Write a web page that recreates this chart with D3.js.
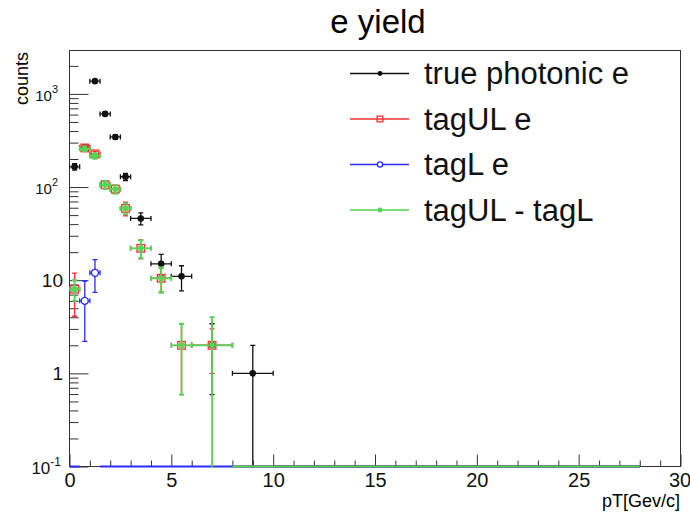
<!DOCTYPE html>
<html>
<head>
<meta charset="utf-8">
<script src="https://cdn.jsdelivr.net/npm/d3@7"></script>
<style>
  body { margin: 0; background: #fff; }
  svg { display: block; font-family: "Liberation Sans", Arial, sans-serif; }
</style>
</head>
<body>
<div id="chart"></div>
<script>
// bins of the pT histogram (GeV/c)
const binEdges = [0, 0.5, 1, 1.5, 2, 2.5, 3, 4, 5, 6, 8, 10, 12, 14, 16, 18, 20, 22, 24, 26, 28];

// counts per bin
const truePhot    = [165, 265, 1370, 610, 345, 129, 46, 15, 11, 2, 1, 0, 0, 0, 0, 0, 0, 0, 0, 0];
const truePhotErr = [12.8, 16.3, 37, 24.7, 18.6, 11.4, 6.8, 3.9, 3.3, 1.41, 1, 0, 0, 0, 0, 0, 0, 0, 0, 0];
const tagUL       = [8, 263, 227, 106, 95, 59, 22, 10.5, 2, 2, 0, 0, 0, 0, 0, 0, 0, 0, 0, 0];
const tagULErr    = [3.9, 16.2, 15, 10.3, 9.7, 10, 5, 3, 1.41, 1, 0, 0, 0, 0, 0, 0, 0, 0, 0, 0];
const tagL        = [0, 6, 12, 0, 0, 0, 0, 0, 0, 0, 0, 0, 0, 0, 0, 0, 0, 0, 0, 0];
const tagLErr     = [0, 3.8, 4.6, 0, 0, 0, 0, 0, 0, 0, 0, 0, 0, 0, 0, 0, 0, 0, 0, 0];
const tagDiff     = [8, 257, 216, 106, 95, 59, 22, 10.5, 2, 2, 0, 0, 0, 0, 0, 0, 0, 0, 0, 0];
const tagDiffErr  = [2, 16, 15, 10.3, 9.7, 7.7, 4.7, 3.2, 1.41, 2, 0, 0, 0, 0, 0, 0, 0, 0, 0, 0];

const legendNames = ["true photonic e", "tagUL e", "tagL e", "tagUL - tagL"];

// axis ticks
const xMajor = [0, 5, 10, 15, 20, 25, 30];
const xMinor = d3.range(0, 31, 1);
const yMajor = [0.1, 1, 10, 100, 1000];
const yMajorLabels = [["10", "-1"], ["1", ""], ["10", ""], ["10", "2"], ["10", "3"]];
const yMinor = [0.2, 0.3, 0.4, 0.5, 0.6, 0.7, 0.8, 0.9, 2, 3, 4, 5, 6, 7, 8, 9,
                20, 30, 40, 50, 60, 70, 80, 90, 200, 300, 400, 500, 600, 700, 800, 900, 2000];

const W = 690, H = 517;
const svg = d3.select("#chart").append("svg").attr("width", W).attr("height", H);

const frameLeft = 69.5, frameRight = 680.5, frameTop = 50.5, frameBottom = 466.5;
const yMin = 0.1;
const x = d3.scaleLinear().domain([0, 30]).range([frameLeft, frameRight]);
const y = d3.scaleLog().domain([yMin, 2924]).range([frameBottom, frameTop]);

// title
svg.append("text")
    .attr("x", 378).attr("y", 33)
    .attr("text-anchor", "middle")
    .attr("font-size", 33)
    .text("e yield");

// frame
svg.append("rect")
    .attr("x", frameLeft).attr("y", frameTop)
    .attr("width", frameRight - frameLeft).attr("height", frameBottom - frameTop)
    .attr("fill", "none").attr("stroke", "#333").attr("stroke-width", 1);

// x axis ticks
const xAxisMajor = svg.append("g")
    .attr("transform", `translate(0,${frameBottom})`)
    .call(d3.axisBottom(x).tickValues(xMajor).tickSize(-12).tickPadding(6).tickFormat(d3.format("d")));
const xAxisMinor = svg.append("g")
    .attr("transform", `translate(0,${frameBottom})`)
    .call(d3.axisBottom(x).tickValues(xMinor.filter(d => d % 5 !== 0)).tickSize(-6).tickFormat(""));

// y axis ticks
const yAxisMajor = svg.append("g")
    .attr("transform", `translate(${frameLeft},0)`)
    .call(d3.axisLeft(y).tickValues(yMajor).tickSize(-19).tickFormat(""));
const yAxisMinor = svg.append("g")
    .attr("transform", `translate(${frameLeft},0)`)
    .call(d3.axisLeft(y).tickValues(yMinor).tickSize(-9).tickFormat(""));

[xAxisMajor, xAxisMinor, yAxisMajor, yAxisMinor].forEach(a => {
    a.select(".domain").remove();
    a.selectAll(".tick line").attr("stroke", "#333");
});
xAxisMajor.selectAll(".tick text")
    .attr("font-size", 20).attr("fill", "#111")
    .attr("font-family", "Liberation Sans, Arial, sans-serif");
// the last label sits at the right edge of the frame
xAxisMajor.selectAll(".tick text").filter(d => d === 30).attr("dx", -1);

// y tick labels, with exponents
yMajor.forEach((v, i) => {
    const [base, sup] = yMajorLabels[i];
    const plain = sup === "";
    const t = svg.append("text")
        .attr("x", plain ? 63 : (sup === "-1" ? 61 : 58))
        .attr("y", y(v) + 7)
        .attr("text-anchor", "end")
        .attr("fill", "#111")
        .attr("font-size", plain ? 19 : (sup === "-1" ? 17 : 15));
    t.append("tspan").text(base);
    if (!plain) {
        t.append("tspan").attr("dy", -8).attr("font-size", sup === "-1" ? 12 : 11).text(sup);
    }
});

// axis titles
svg.append("text")
    .attr("transform", "translate(28,52) rotate(-90)")
    .attr("text-anchor", "end")
    .attr("font-size", 18)
    .text("counts");
svg.append("text")
    .attr("x", 680).attr("y", 507)
    .attr("text-anchor", "end")
    .attr("font-size", 18)
    .text("pT[Gev/c]");

// plot area clip
svg.append("clipPath").attr("id", "plotClip")
    .append("rect")
    .attr("x", frameLeft).attr("y", frameTop)
    .attr("width", frameRight - frameLeft).attr("height", frameBottom - frameTop + 1.5);

const plot = svg.append("g").attr("clip-path", "url(#plotClip)");

// markers
function drawMarker(g, kind, cx, cy, color, s) {
    if (kind === "dot") {
        g.append("circle").attr("cx", cx).attr("cy", cy).attr("r", 3.3 * s)
            .attr("fill", color).attr("stroke", "none");
    } else if (kind === "square") {
        const h = 3.8 * s;
        g.append("rect").attr("x", cx - h).attr("y", cy - h).attr("width", 2 * h).attr("height", 2 * h)
            .attr("fill", "none").attr("stroke", color).attr("stroke-width", 1.3);
    } else if (kind === "circle") {
        g.append("circle").attr("cx", cx).attr("cy", cy).attr("r", 3.5 * s)
            .attr("fill", "#fff").attr("stroke", color).attr("stroke-width", 1.4);
    } else if (kind === "star") {
        const r = 3.2 * s, d = r * 0.75;
        g.append("path")
            .attr("d", `M${cx - r},${cy}H${cx + r}M${cx},${cy - r}V${cy + r}` +
                `M${cx - d},${cy - d}L${cx + d},${cy + d}M${cx - d},${cy + d}L${cx + d},${cy - d}`)
            .attr("fill", "none").attr("stroke", color).attr("stroke-width", 1.6);
    }
}

function drawSeries(vals, errs, color, marker, lw) {
    const g = plot.append("g").attr("stroke", color).attr("fill", "none").attr("stroke-width", lw);
    const cap = 2.5;
    vals.forEach((v, i) => {
        const x0 = x(binEdges[i]), x1 = x(binEdges[i + 1]);
        const xc = x((binEdges[i] + binEdges[i + 1]) / 2);
        if (v <= yMin) {
            // empty bin: only the x bar, pinned to the bottom of the frame
            g.append("line").attr("x1", x0).attr("x2", x1)
                .attr("y1", frameBottom).attr("y2", frameBottom).attr("stroke-width", 2);
            return;
        }
        const yc = y(v);
        const hi = y(v + errs[i]);
        const lo = v - errs[i] > yMin ? y(v - errs[i]) : frameBottom + 2;
        g.append("line").attr("x1", x0).attr("x2", x1).attr("y1", yc).attr("y2", yc);
        g.append("line").attr("x1", x0).attr("x2", x0).attr("y1", yc - cap).attr("y2", yc + cap);
        g.append("line").attr("x1", x1).attr("x2", x1).attr("y1", yc - cap).attr("y2", yc + cap);
        if (errs[i] > 0) {
            g.append("line").attr("x1", xc).attr("x2", xc).attr("y1", hi).attr("y2", lo);
            g.append("line").attr("x1", xc - cap).attr("x2", xc + cap).attr("y1", hi).attr("y2", hi);
            if (lo < frameBottom) {
                g.append("line").attr("x1", xc - cap).attr("x2", xc + cap).attr("y1", lo).attr("y2", lo);
            }
        }
        drawMarker(g, marker, xc, yc, color, 1);
    });
}

const colors = ["#111", "#ff3030", "#2b2bff", "#55d455"];
const markers = ["dot", "square", "circle", "star"];

drawSeries(truePhot, truePhotErr, colors[0], markers[0], 1.3);
drawSeries(tagUL, tagULErr, colors[1], markers[1], 1.3);
drawSeries(tagL, tagLErr, colors[2], markers[2], 1.3);
drawSeries(tagDiff, tagDiffErr, colors[3], markers[3], 1.8);

// legend
const legend = svg.append("g");
legendNames.forEach((name, i) => {
    const cy = 73.5 + i * 45.5;
    const row = legend.append("g");
    row.append("line").attr("x1", 350).attr("x2", 409).attr("y1", cy).attr("y2", cy)
        .attr("stroke", colors[i]).attr("stroke-width", 1.3);
    drawMarker(row, markers[i], 380, cy, colors[i], 0.75);
    row.append("text")
        .attr("x", 424).attr("y", cy + 10.5)
        .attr("font-size", 31)
        .attr("fill", "#111")
        .text(name);
});
</script>
</body>
</html>
